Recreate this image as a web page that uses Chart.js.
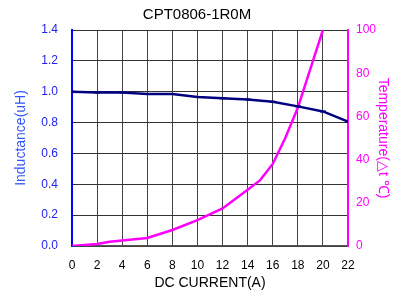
<!DOCTYPE html>
<html>
<head>
<meta charset="utf-8">
<script src="https://cdn.jsdelivr.net/npm/chart.js@4"></script>
<style>
  html, body { margin: 0; padding: 0; background: #fff; }
  #wrap { width: 394px; height: 296px; }
</style>
</head>
<body>
<div id="wrap"><canvas id="chart" width="394" height="296"></canvas></div>
<script>
// values
const currentL = [0, 2, 4, 6, 8, 10, 12, 14, 16, 18, 20, 22];
const inductance = [1.0, 0.995, 0.995, 0.985, 0.985, 0.966, 0.957, 0.95, 0.935, 0.905, 0.872, 0.806];

const currentT = [0, 2, 3, 4, 6, 8, 10, 12, 14, 15, 16, 17, 18, 19, 20];
const temperature = [0, 0.9, 2, 2.6, 3.7, 7.4, 12, 17.4, 26, 30.5, 38, 50, 64, 82, 100];

const leftTicks = [0, 0.2, 0.4, 0.6, 0.8, 1.0, 1.2, 1.4];
const rightTicks = [0, 20, 40, 60, 80, 100];

const font = "'Liberation Sans', Arial, sans-serif";

const toPoints = (xs, ys) => xs.map((x, i) => ({ x: x, y: ys[i] }));

new Chart(document.getElementById("chart"), {
  type: "line",
  data: {
    datasets: [
      {
        label: "Inductance",
        data: toPoints(currentL, inductance),
        yAxisID: "yL",
        borderColor: "#000080",
        backgroundColor: "#000080",
        borderWidth: 2.5,
        pointStyle: "line",
        pointRadius: 3,
        pointBorderWidth: 2,
        tension: 0,
      },
      {
        label: "Temperature",
        data: toPoints(currentT, temperature),
        yAxisID: "yR",
        borderColor: "#ff00ff",
        backgroundColor: "#ff00ff",
        borderWidth: 2.5,
        pointRadius: 0,
        tension: 0,
      },
    ],
  },
  options: {
    responsive: false,
    animation: false,
    layout: { padding: 0 },
    plugins: {
      legend: { display: false },
      tooltip: { enabled: false },
      title: {
        display: true,
        text: "CPT0806-1R0M",
        color: "#000",
        font: { family: font, size: 15, weight: "normal" },
        padding: { top: 6, bottom: 6 },
      },
    },
    scales: {
      x: {
        type: "linear",
        min: 0,
        max: 22,
        ticks: {
          stepSize: 2,
          color: "#000",
          font: { family: font, size: 12 },
          padding: 12,
        },
        grid: { color: "#444", lineWidth: 1, drawTicks: false },
        border: { color: "#555", width: 1.5 },
        title: {
          display: true,
          text: "DC CURRENT(A)",
          color: "#000",
          font: { family: font, size: 14 },
          padding: { top: 2 },
        },
        afterFit: (s) => { s.height = 50; },
      },
      yL: {
        position: "left",
        min: 0,
        max: 1.4,
        afterBuildTicks: (s) => { s.ticks = leftTicks.map((v) => ({ value: v })); },
        ticks: {
          color: "#2222ee",
          font: { family: font, size: 12 },
          padding: 14,
          callback: (v) => v.toFixed(1),
        },
        grid: { color: "#333", lineWidth: 1, drawTicks: false },
        border: { color: "#0000ff", width: 2 },
        title: {
          display: true,
          text: "Inductance(uH)",
          color: "#3355ff",
          font: { family: font, size: 14 },
          padding: { top: 13, bottom: 4 },
        },
        afterFit: (s) => { s.width = 72; },
      },
      yR: {
        position: "right",
        min: 0,
        max: 100,
        afterBuildTicks: (s) => { s.ticks = rightTicks.map((v) => ({ value: v })); },
        ticks: {
          color: "#ff00ff",
          font: { family: font, size: 12 },
          padding: 8,
        },
        grid: { display: false, drawTicks: false },
        border: { color: "#ff00ff", width: 2 },
        title: {
          display: true,
          text: "Temperature(△t ℃)",
          color: "#ff00ff",
          font: { family: font, size: 14 },
          padding: { top: 3 },
        },
        afterFit: (s) => { s.width = 46; },
      },
    },
  },
});
</script>
</body>
</html>
